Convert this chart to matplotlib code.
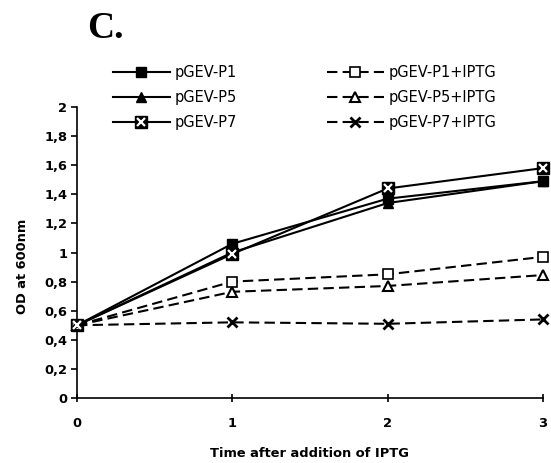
import matplotlib.pyplot as plt
from matplotlib.legend_handler import HandlerTuple

# datos (OD a 600 nm)
tiempo = [0, 1, 2, 3]
p1 = [0.50, 1.06, 1.37, 1.49]
p5 = [0.50, 1.00, 1.34, 1.49]
p7 = [0.50, 0.99, 1.44, 1.58]
p1_iptg = [0.50, 0.80, 0.85, 0.97]
p5_iptg = [0.50, 0.73, 0.77, 0.845]
p7_iptg = [0.50, 0.52, 0.51, 0.54]

yticks = [0, 0.2, 0.4, 0.6, 0.8, 1.0, 1.2, 1.4, 1.6, 1.8, 2.0]
ytick_labels = ["0", "0,2", "0,4", "0,6", "0,8", "1", "1,2", "1,4", "1,6", "1,8", "2"]

W, H = 551, 463
fig = plt.figure(figsize=(W / 100, H / 100), dpi=100)
ax = fig.add_axes([77 / W, 1 - 398 / H, (543 - 77) / W, (398 - 107) / H])

lw = 1.5
dash = (5, 2.5)
ms = 7.5

# series sin IPTG (linea continua)
l1, = ax.plot(tiempo, p1, color="black", lw=lw, marker="s", ms=ms, mfc="black", mec="black", clip_on=False, zorder=3)
l5, = ax.plot(tiempo, p5, color="black", lw=lw, marker="^", ms=ms, mfc="black", mec="black", clip_on=False, zorder=3)
l7, = ax.plot(tiempo, p7, color="black", lw=lw, marker="s", ms=ms + 0.5, mfc="black", mec="black", clip_on=False, zorder=3)
l7x, = ax.plot(tiempo, p7, ls="none", marker="x", ms=6, mew=1.6, color="white", clip_on=False, zorder=4)

# series con IPTG (linea discontinua)
d1, = ax.plot(tiempo, p1_iptg, color="black", lw=lw, dashes=dash, marker="s", ms=ms, mfc="white", mec="black", mew=1.2, clip_on=False, zorder=3)
d5, = ax.plot(tiempo, p5_iptg, color="black", lw=lw, dashes=dash, marker="^", ms=ms, mfc="white", mec="black", mew=1.5, clip_on=False, zorder=3)
d7, = ax.plot(tiempo, p7_iptg, color="black", lw=lw, dashes=dash, marker="x", ms=ms, mec="black", mew=2, clip_on=False, zorder=3)

ax.set_xlim(0, 3)
ax.set_ylim(0, 2)
ax.set_xticks(tiempo)
ax.set_xticklabels([str(t) for t in tiempo], fontweight="bold", fontsize=9.4)
ax.set_yticks(yticks)
ax.set_yticklabels(ytick_labels, fontweight="bold", fontsize=9.4)
ax.spines["top"].set_visible(False)
ax.spines["right"].set_visible(False)
for s in ["left", "bottom"]:
    ax.spines[s].set_linewidth(1.2)
ax.tick_params(axis="y", direction="out", length=4, width=1.2, pad=3)
ax.tick_params(axis="x", direction="inout", length=6, width=1.2, pad=11)

ax.set_xlabel("Time after addition of IPTG", fontweight="bold", fontsize=9.4)
ax.set_ylabel("OD at 600nm", fontweight="bold", fontsize=9.4)
ax.xaxis.set_label_coords(0.5, -0.17)
ax.yaxis.set_label_coords(-0.103, 0.454)

fig.text(87 / W, 1 - 38 / H, "C.", family="Liberation Serif", fontweight="bold", fontsize=27, va="baseline")

leg_kw = dict(frameon=False, fontsize=10.5, handlelength=3.9, handletextpad=0.35,
              labelspacing=0.68, borderpad=0, borderaxespad=0, loc="upper left",
              handler_map={tuple: HandlerTuple(ndivide=1)})
leg1 = fig.legend([l1, l5, (l7, l7x)], ["pGEV-P1", "pGEV-P5", "pGEV-P7"],
                  bbox_to_anchor=(113 / W, 1 - 65 / H), **leg_kw)
leg2 = fig.legend([d1, d5, d7], ["pGEV-P1+IPTG", "pGEV-P5+IPTG", "pGEV-P7+IPTG"],
                  bbox_to_anchor=(327 / W, 1 - 65 / H), **leg_kw)

fig.savefig("out.png", dpi=100)
